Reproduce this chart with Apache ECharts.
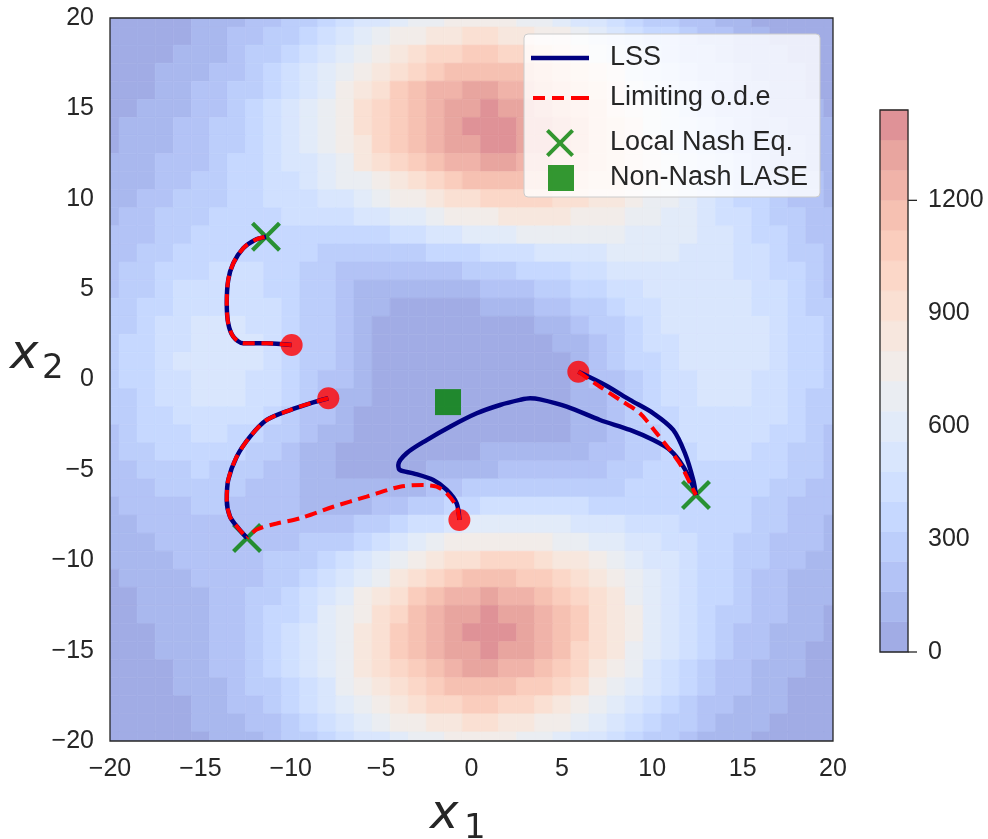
<!DOCTYPE html>
<html><head><meta charset="utf-8">
<script src="https://cdn.jsdelivr.net/npm/echarts@6/dist/echarts.min.js"></script>
<style>html,body{margin:0;padding:0;background:#fff}#chart{width:988px;height:839px}</style>
</head><body><div id="chart"></div>
<script>
// ---- data ----
// cell centres of the sampled field (x to the right, y from the top row to the bottom row)
const xCenters = [-20,-19,-18,-17,-16,-15,-14,-13,-12,-11,-10,-9,-8,-7,-6,-5,-4,-3,-2,-1,0,1,2,3,4,5,6,7,8,9,10,11,12,13,14,15,16,17,18,19,20];
const yCenters = [20,19,18,17,16,15,14,13,12,11,10,9,8,7,6,5,4,3,2,1,0,-1,-2,-3,-4,-5,-6,-7,-8,-9,-10,-11,-12,-13,-14,-15,-16,-17,-18,-19,-20];
// estimated field value at each cell, one row per yCenters entry
const fieldRows = [
[18,24,34,46,61,81,105,135,171,212,260,313,371,432,493,553,609,658,698,726,740,740,726,699,659,610,555,494,433,372,314,261,212,170,134,104,79,60,44,32,23],
[22,31,42,57,76,99,129,164,207,256,313,376,445,518,591,664,731,791,839,873,891,892,876,844,798,740,673,601,528,455,385,320,262,211,167,130,100,75,56,41,30],
[28,39,52,70,92,119,153,195,243,301,366,439,518,602,688,772,850,920,977,1018,1040,1043,1026,990,937,870,794,711,625,541,459,384,316,255,203,159,123,94,70,52,37],
[35,47,63,83,109,140,178,224,279,342,415,496,584,678,774,868,957,1037,1102,1150,1177,1181,1164,1125,1067,993,908,816,720,625,533,448,370,301,242,191,148,114,86,64,47],
[43,57,75,98,126,161,202,252,311,379,456,543,637,738,841,944,1041,1129,1201,1255,1286,1294,1277,1237,1176,1098,1007,908,804,701,602,508,423,347,280,223,175,136,103,78,57],
[52,68,89,114,145,181,225,276,337,407,486,575,672,776,883,990,1093,1185,1263,1322,1358,1369,1354,1315,1254,1175,1082,979,872,765,660,562,472,390,318,256,203,159,122,93,69],
[62,81,104,131,163,201,245,297,356,424,502,588,683,786,892,999,1103,1198,1279,1341,1380,1395,1385,1349,1291,1215,1123,1023,916,809,705,605,513,429,354,288,231,183,142,109,82],
[74,95,120,149,182,220,263,312,368,431,502,582,670,766,866,969,1069,1162,1242,1306,1349,1368,1362,1333,1281,1211,1127,1033,933,832,732,636,545,462,386,319,259,208,164,127,97],
[87,111,138,168,202,239,280,324,373,428,489,557,633,717,806,898,991,1078,1155,1218,1262,1285,1286,1265,1223,1164,1092,1009,921,830,740,652,567,488,414,347,286,233,186,146,112],
[103,129,158,190,223,259,295,334,374,417,464,517,577,643,717,795,875,952,1023,1083,1127,1154,1162,1150,1121,1076,1019,953,881,806,730,653,579,507,438,373,313,258,209,166,129],
[120,149,180,213,247,280,312,343,373,402,433,468,508,554,608,668,732,797,859,913,956,986,1000,999,983,954,916,870,818,762,704,643,582,519,458,397,338,283,232,187,147],
[139,171,205,240,274,305,332,355,373,388,401,416,434,459,491,531,577,627,678,725,766,797,816,825,823,811,793,768,738,704,666,624,578,527,474,419,363,308,256,208,165],
[160,195,233,269,304,333,355,370,377,378,374,369,366,368,379,398,426,460,499,538,574,605,629,645,656,661,661,658,651,639,622,599,569,532,489,440,387,333,280,230,184],
[181,221,262,301,336,364,383,391,388,376,356,332,309,292,282,281,292,311,337,367,398,427,453,476,496,515,533,549,563,573,577,573,559,535,502,459,410,358,304,252,203],
[203,247,291,333,370,398,414,417,406,382,349,310,270,235,207,191,186,192,206,227,251,277,303,329,357,386,418,450,482,511,534,547,549,538,513,477,432,381,326,272,221],
[224,271,319,365,404,432,447,446,429,397,353,301,249,199,159,129,111,106,111,123,141,162,186,213,244,280,322,366,413,457,496,524,539,539,523,494,452,402,347,291,238],
[242,293,345,393,434,464,478,474,453,415,364,304,242,183,133,94,68,54,52,57,68,84,104,129,161,200,247,300,357,413,464,504,531,540,532,507,468,419,364,307,252],
[257,311,366,417,459,489,503,498,474,432,376,311,243,179,122,79,48,29,21,21,27,37,53,74,104,143,191,249,313,377,437,486,521,538,536,515,480,432,377,320,263],
[268,324,380,432,476,506,520,514,488,444,385,317,246,179,121,74,41,20,9,6,8,14,24,41,67,104,153,212,278,347,413,469,510,532,535,518,485,439,385,328,271],
[272,329,386,438,482,512,524,517,489,443,383,314,242,175,117,71,39,18,7,2,1,4,11,24,46,79,125,183,251,322,390,450,495,522,528,515,484,440,387,330,273],
[271,327,383,434,476,504,515,505,476,429,368,299,228,162,107,63,33,15,5,1,0,1,5,15,33,63,107,162,228,299,368,429,476,505,515,504,476,434,383,327,271],
[264,317,371,419,458,483,491,480,449,400,339,271,202,140,87,48,23,8,2,1,1,3,6,14,29,56,96,148,210,279,346,407,454,484,495,486,461,421,372,318,264],
[251,301,351,395,430,452,456,442,409,360,300,233,168,109,63,29,10,1,1,4,8,11,15,22,36,59,95,142,201,264,328,385,431,460,471,464,440,402,356,305,254],
[233,279,324,364,394,411,412,396,362,314,255,193,132,80,40,15,3,2,8,18,27,34,40,47,59,79,109,151,201,259,316,368,409,435,445,437,414,379,336,288,239],
[212,254,293,328,353,367,365,347,314,267,213,157,104,60,30,14,12,21,36,53,68,80,88,96,105,120,144,177,219,266,313,357,391,412,419,410,387,354,312,268,222],
[189,226,260,290,311,321,318,300,269,228,181,133,91,59,41,38,48,68,93,119,141,157,168,175,181,189,204,226,255,289,324,356,380,393,394,383,359,327,288,246,204],
[166,198,227,253,271,279,276,260,235,201,164,129,101,84,81,93,117,150,187,222,251,272,284,288,289,289,292,299,313,330,349,366,378,381,375,358,333,300,263,223,185],
[144,171,196,218,234,242,241,231,213,190,167,147,136,137,152,181,222,269,318,362,398,421,433,434,426,415,404,394,389,387,387,387,383,375,359,337,308,275,239,201,166],
[123,146,168,188,203,213,216,212,205,195,188,186,195,216,252,299,357,419,479,533,574,599,609,604,587,562,534,506,480,457,436,417,397,374,349,320,287,252,216,181,147],
[104,124,144,163,179,191,199,205,209,214,224,243,272,315,370,437,512,588,659,720,766,792,798,785,757,718,672,624,576,531,489,451,414,378,342,305,268,231,195,161,130],
[88,106,124,143,160,176,191,205,222,243,271,308,359,422,497,582,672,761,842,909,956,982,983,962,923,868,805,737,669,603,541,484,431,382,336,292,251,212,176,144,115],
[74,90,108,126,145,165,187,211,239,275,319,375,444,525,618,718,821,920,1008,1079,1127,1150,1147,1118,1067,999,920,835,748,664,585,511,445,384,329,279,235,195,159,127,100],
[62,77,94,113,134,158,185,218,257,305,363,434,518,614,720,832,944,1050,1142,1215,1262,1282,1273,1237,1177,1098,1006,907,806,707,614,528,451,381,320,266,219,178,143,113,87],
[53,67,83,102,125,152,184,222,270,327,396,478,573,679,794,913,1029,1138,1231,1303,1349,1365,1351,1309,1242,1155,1055,947,836,728,626,532,447,372,307,250,202,161,127,99,76],
[45,58,74,93,116,145,180,223,275,339,415,503,604,715,833,953,1071,1178,1269,1338,1380,1393,1376,1330,1259,1168,1064,951,837,724,618,520,432,355,289,232,184,145,112,86,65],
[38,50,65,84,107,136,173,217,272,338,416,506,608,719,835,953,1067,1170,1256,1320,1358,1367,1347,1300,1228,1138,1034,922,808,696,591,494,407,331,266,211,166,128,98,74,55],
[32,43,57,74,97,126,161,206,260,325,402,489,587,693,804,915,1021,1116,1195,1253,1286,1292,1271,1225,1156,1069,970,863,754,648,547,455,373,301,239,188,146,112,85,63,46],
[27,36,49,65,86,113,147,189,240,302,373,455,546,644,745,846,942,1027,1098,1148,1177,1180,1159,1115,1051,971,880,782,682,584,492,407,332,266,210,164,126,96,72,53,38],
[22,30,41,56,75,99,130,168,215,270,335,409,490,577,666,755,839,913,974,1017,1040,1042,1023,983,925,854,773,685,597,510,428,353,287,229,180,139,106,80,59,43,31],
[18,25,34,47,64,85,112,145,186,234,290,354,424,499,576,652,723,785,836,872,891,892,874,839,789,728,658,583,507,432,362,298,241,192,150,116,88,66,48,35,25],
[14,20,28,39,53,70,93,121,156,197,244,297,356,418,482,545,603,655,696,725,740,740,724,695,653,602,543,481,418,356,298,245,197,157,122,94,71,53,38,28,20]
];
// contour levels and tick labels
const levels = [0,80,160,240,320,400,480,560,640,720,800,880,960,1040,1120,1200,1280,1360,1440];
const colorbarTicks = [0,300,600,900,1200];
const axisTicks = [-20,-15,-10,-5,0,5,10,15,20];

// starting points (red dots)
const startX = [-9.95,-7.92,-0.67,5.91];
const startY = [1.91,-1.04,-7.77,0.43];
// local Nash equilibria
const nashX = [-11.37,-12.42,12.42];
const nashY = [7.9,-8.77,-6.39];
// non-Nash LASE
const laseX = [-1.3];
const laseY = [-1.25];

// LSS trajectories
const lss1 = [[-9.95,1.91],[-11.33,2.0],[-12.63,2.0],[-13.18,2.37],[-13.46,3.11],[-13.54,4.22],[-13.46,5.5],[-13.18,6.43],[-12.63,7.26],[-11.98,7.72],[-11.37,7.9]];
const lss2 = [[-7.92,-1.04],[-8.93,-1.32],[-10.04,-1.69],[-11.33,-2.24],[-12.25,-3.16],[-12.99,-4.27],[-13.46,-5.56],[-13.54,-6.67],[-13.36,-7.59],[-12.9,-8.23],[-12.42,-8.77]];
const lss3 = [[-0.67,-7.77],[-0.82,-6.85],[-1.37,-6.11],[-2.11,-5.56],[-3.22,-5.19],[-3.96,-5.01],[-4.05,-4.73],[-3.59,-4.08],[-2.48,-3.35],[-1.19,-2.61],[0.29,-1.87],[1.58,-1.41],[2.68,-1.13],[3.24,-1.04],[3.79,-1.1],[5.27,-1.5],[7.11,-2.24],[8.77,-2.79],[10.06,-3.35],[10.98,-3.9],[11.72,-4.82],[12.27,-5.93],[12.42,-6.39]];
const lss4 = [[5.91,0.43],[7.39,-0.3],[8.77,-1.13],[10.06,-1.87],[11.16,-2.79],[11.81,-4.08],[12.27,-5.56],[12.42,-6.39]];
// limiting o.d.e trajectories
const ode1 = [[-9.95,1.91],[-11.33,2.0],[-12.63,2.0],[-13.18,2.37],[-13.46,3.11],[-13.54,4.22],[-13.46,5.5],[-13.18,6.43],[-12.63,7.26],[-11.98,7.72],[-11.37,7.9]];
const ode2 = [[-7.92,-1.04],[-8.93,-1.32],[-10.04,-1.69],[-11.33,-2.24],[-12.25,-3.16],[-12.99,-4.27],[-13.46,-5.56],[-13.54,-6.67],[-13.36,-7.59],[-12.9,-8.23],[-12.42,-8.77]];
const ode3 = [[-0.67,-7.77],[-0.82,-7.04],[-1.37,-6.3],[-1.93,-5.93],[-2.67,-5.84],[-3.96,-5.93],[-5.8,-6.48],[-7.65,-7.04],[-9.49,-7.68],[-10.78,-7.97],[-11.88,-8.3],[-12.42,-8.77]];
const ode4 = [[5.91,0.43],[7.11,-0.4],[8.22,-1.13],[9.32,-1.87],[10.25,-2.98],[10.98,-3.9],[11.63,-4.82],[12.18,-5.93],[12.42,-6.39]];
const lssPaths = [lss1, lss2, lss3, lss4];
const odePaths = [ode1, ode2, ode3, ode4];

// ---- styles ----
const bandColors = ['#a1ace5','#a9b8ee','#b3c3f6','#bccefb','#c6d8ff','#d0e0ff','#d9e6fd','#e2ebf9','#eaedf2',
  '#f2ece9','#f7e7de','#fae0d3','#fbd7c8','#facdbd','#f6c1b2','#f0b3a9','#e8a59f','#df9297'];
const TXT = '#262626';
const FONT = 'Liberation Sans';
const CB_TICK_LEN = 9;

const fieldData = [];
fieldRows.forEach((row, i) => row.forEach((v, j) => fieldData.push([xCenters[j], yCenters[i], v])));
const halfX = Math.abs(xCenters[1] - xCenters[0]) / 2;
const halfY = Math.abs(yCenters[0] - yCenters[1]) / 2;
const bandData = levels.slice(0, -1).map((lo, k) => [lo, levels[k + 1], k]);
const zip = (a, b) => a.map((v, i) => [v, b[i]]);
const minus = v => String(v).replace('-', '\u2212');

const chart = echarts.init(document.getElementById('chart'), null, {renderer: 'canvas'});

const series = [];
series.push({
  type: 'custom', name: 'field', xAxisIndex: 0, yAxisIndex: 0, z: 1, silent: true, clip: true,
  encode: {x: 0, y: 1},
  data: fieldData,
  renderItem: function (params, api) {
    const x = api.value(0), y = api.value(1);
    const a = api.coord([x - halfX, y + halfY]);
    const b = api.coord([x + halfX, y - halfY]);
    const c = api.visual('color');
    return {type: 'rect', shape: {x: a[0], y: a[1], width: b[0] - a[0], height: b[1] - a[1]},
      style: {fill: c, stroke: c, lineWidth: 0.6}};
  }
});
series.push({
  type: 'custom', name: 'colorbar', xAxisIndex: 1, yAxisIndex: 1, z: 1, silent: true, clip: false,
  encode: {y: [0, 1]},
  data: bandData,
  renderItem: function (params, api) {
    const lo = api.value(0), hi = api.value(1);
    const a = api.coord([0, hi]);
    const b = api.coord([1, lo]);
    const c = bandColors[api.value(2)];
    const children = [{type: 'rect', shape: {x: a[0], y: a[1], width: b[0] - a[0], height: b[1] - a[1]},
      style: {fill: c, stroke: c, lineWidth: 0.5}}];
    if (colorbarTicks.indexOf(lo) >= 0) {
      children.push({type: 'line', z2: 20, shape: {x1: b[0], y1: b[1], x2: b[0] + CB_TICK_LEN, y2: b[1]},
        style: {stroke: TXT, lineWidth: 1.3}});
    }
    return {type: 'group', children: children};
  }
});
series.push({
  type: 'scatter', name: 'start', z: 3, silent: true, symbol: 'circle', symbolSize: 22,
  itemStyle: {color: '#ff0000'}, data: zip(startX, startY)
});
const X_PATH = 'path://M0,10L10,0L50,40L90,0L100,10L60,50L100,90L90,100L50,60L10,100L0,90L40,50Z';
series.push({
  type: 'scatter', name: 'Local Nash Eq.', z: 4, silent: true, symbol: X_PATH,
  symbolSize: 30, itemStyle: {color: '#008000'}, data: zip(nashX, nashY)
});
series.push({
  type: 'scatter', name: 'Non-Nash LASE', z: 4, silent: true, symbol: 'rect', symbolSize: 26,
  itemStyle: {color: '#008000'}, data: zip(laseX, laseY)
});
lssPaths.forEach(p => series.push({
  type: 'line', name: 'LSS', z: 5, silent: true, symbol: 'none', showSymbol: false, smooth: 0.3,
  lineStyle: {color: '#000080', width: 4.5}, itemStyle: {color: '#000080'}, data: p
}));
odePaths.forEach(p => series.push({
  type: 'line', name: 'Limiting o.d.e', z: 6, silent: true, symbol: 'none', showSymbol: false, smooth: 0.3,
  lineStyle: {color: '#ff0000', width: 4, type: [12, 6.5]}, itemStyle: {color: '#ff0000'}, data: p
}));

function makeLegend(name, icon, left, top, w, h, pad) {
  return {
    data: [{name: name, icon: icon}], left: left, top: top, orient: 'vertical', padding: 0, selectedMode: false,
    itemWidth: w, itemHeight: h, z: 60,
    textStyle: {fontSize: 27, fontFamily: FONT, color: TXT, lineHeight: 30, padding: [0, 0, 0, pad]}
  };
}

const axisLabelStyle = {fontSize: 25, fontFamily: FONT, color: TXT};

chart.setOption({
  animation: false,
  backgroundColor: '#ffffff',
  grid: [
    {left: 110, top: 18, width: 723, height: 723, show: true, borderColor: TXT, borderWidth: 1.3,
     backgroundColor: 'transparent', z: 10, outerBoundsMode: 'none', containLabel: false},
    {left: 880, top: 110, width: 28, height: 542, show: true, borderColor: TXT, borderWidth: 1.3,
     backgroundColor: 'transparent', z: 10, outerBoundsMode: 'none', containLabel: false}
  ],
  xAxis: [
    {type: 'value', gridIndex: 0, min: -20, max: 20, interval: 5,
     axisLine: {show: false}, axisTick: {show: false}, splitLine: {show: false},
     axisLabel: Object.assign({margin: 16, formatter: minus, customValues: axisTicks}, axisLabelStyle)},
    {type: 'value', gridIndex: 1, min: 0, max: 1, show: false}
  ],
  yAxis: [
    {type: 'value', gridIndex: 0, min: -20, max: 20, interval: 5,
     axisLine: {show: false}, axisTick: {show: false}, splitLine: {show: false},
     axisLabel: Object.assign({margin: 16, formatter: minus, customValues: axisTicks}, axisLabelStyle)},
    {type: 'value', gridIndex: 1, min: 0, max: 1440, position: 'right',
     axisLine: {show: false}, splitLine: {show: false}, axisTick: {show: false},
     axisLabel: Object.assign({margin: 20, formatter: v => String(v), customValues: colorbarTicks}, axisLabelStyle)}
  ],
  visualMap: {
    type: 'piecewise', show: false, seriesIndex: 0, dimension: 2,
    pieces: bandData.map(b => ({gte: b[0], lt: b[1], color: bandColors[b[2]]}))
  },
  legend: [
    makeLegend('LSS', 'rect', 531, 43, 58, 4.5, 16),
    makeLegend('Limiting o.d.e', 'path://M0,0H12V4H0Z M19,0H31V4H19Z M38,0H56V4H38Z', 533, 83, 56, 4, 16),
    makeLegend('Local Nash Eq.', X_PATH, 546, 128, 28, 28, 31),
    makeLegend('Non-Nash LASE', 'rect', 548, 163, 26, 26, 31)
  ],
  graphic: [
    {type: 'rect', z: 50, shape: {x: 524, y: 34, width: 296, height: 163, r: 4},
     style: {fill: 'rgba(255,255,255,0.8)', stroke: '#cccccc', lineWidth: 1}},
    {type: 'text', z: 50, left: 10, top: 332, style: {text: 'x', fontSize: 48, fontFamily: 'DejaVu Sans', fontStyle: 'italic', fill: TXT}},
    {type: 'text', z: 50, left: 42, top: 352, style: {text: '2', fontSize: 34, fontFamily: 'DejaVu Sans', fill: TXT}},
    {type: 'text', z: 50, left: 430, top: 792, style: {text: 'x', fontSize: 48, fontFamily: 'DejaVu Sans', fontStyle: 'italic', fill: TXT}},
    {type: 'text', z: 50, left: 464, top: 812, style: {text: '1', fontSize: 34, fontFamily: 'DejaVu Sans', fill: TXT}}
  ],
  series: series
});
</script></body></html>
